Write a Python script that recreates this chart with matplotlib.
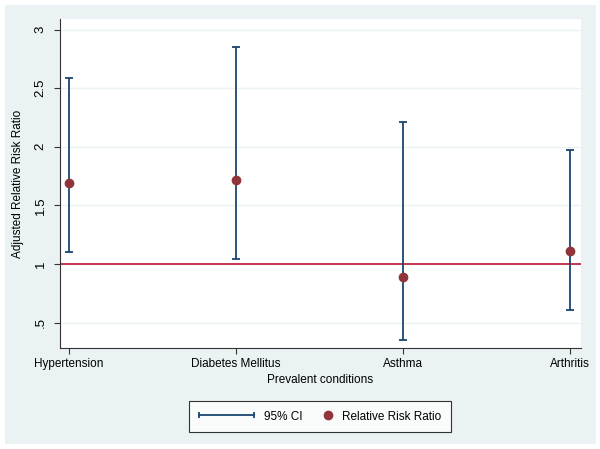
import numpy as np
import matplotlib
matplotlib.use('Agg')
import matplotlib.pyplot as plt
from matplotlib.lines import Line2D
from matplotlib.patches import Rectangle
from matplotlib.legend_handler import HandlerLine2D

plt.rcParams['font.family'] = ['Liberation Sans', 'DejaVu Sans']

# data
conditions = ['Hypertension', 'Diabetes Mellitus', 'Asthma', 'Arthritis']
rrr = [1.69, 1.72, 0.89, 1.11]
ci_low = [1.10, 1.04, 0.355, 0.61]
ci_high = [2.59, 2.85, 2.21, 1.97]
yticks = [0.5, 1, 1.5, 2, 2.5, 3]
ytick_labels = ['.5', '1', '1.5', '2', '2.5', '3']

bg = '#eaf2f3'
navy = '#1a476f'
maroon = '#90353b'
refred = '#c8354f'


class RightDotHandler(HandlerLine2D):
    # put the dot at the right end of the handle box, next to its text
    def get_xdata(self, legend, xdescent, ydescent, width, height, fontsize):
        r = 0.35 * fontsize
        xdata = np.array([-xdescent + width - 2 * r, -xdescent + width])
        return xdata, xdata


fig = plt.figure(figsize=(6.0, 4.49), dpi=100)
fig.patch.set_facecolor('white')
fig.patches.append(Rectangle((5 / 600, 5 / 449), 591 / 600, 439 / 449,
                             transform=fig.transFigure, facecolor=bg,
                             edgecolor='none', zorder=-5))

ax = fig.add_axes([60 / 600, 1 - 348 / 449, 521 / 600, 329 / 449])
ax.set_facecolor('white')

x = np.arange(1, len(conditions) + 1)
y = np.array(rrr)
yerr = [y - np.array(ci_low), np.array(ci_high) - y]

ax.axhline(1, color=refred, lw=1.4, zorder=2)
ax.errorbar(x, y, yerr=yerr, fmt='none', ecolor=navy, elinewidth=1.3,
            capsize=3.0, capthick=1.3, zorder=3)
ax.plot(x, y, 'o', color=maroon, ms=6, zorder=4)

ax.set_xlim(0.946, 4.066)
ax.set_ylim(0.283, 3.09)
ax.set_xticks(x)
ax.set_xticklabels(conditions)
ax.set_yticks(yticks)
ax.set_yticklabels(ytick_labels, rotation=90, va='center')

ax.yaxis.grid(True, color=bg, lw=1.0)
ax.set_axisbelow(True)

for s in ['top', 'right']:
    ax.spines[s].set_visible(False)
for s in ['left', 'bottom']:
    ax.spines[s].set_color('#333333')
    ax.spines[s].set_linewidth(0.8)

ax.tick_params(axis='both', direction='out', length=4.2, width=0.8,
               color='#333333', labelcolor='black')
ax.tick_params(axis='y', pad=5.4, labelsize=9.5)
ax.tick_params(axis='x', pad=3, labelsize=8.5)

ax.set_ylabel('Adjusted Relative Risk Ratio', fontsize=8.5, va='center')
ax.yaxis.set_label_coords((18 - 60) / 521, 0.5)
ax.set_xlabel('Prevalent conditions', fontsize=8.5, va='center')
ax.xaxis.set_label_coords(0.5, (348 - 380) / 329)

# legend
ci_handle = Line2D([], [], color=navy, lw=1.3, marker='|', ms=5, mew=1.3)
dot_handle = Line2D([], [], color=maroon, ls='none', marker='o', ms=6)
leg = fig.legend([ci_handle, dot_handle], ['95% CI', 'Relative Risk Ratio'],
                 loc='center', bbox_to_anchor=(320 / 600, 1 - 416.5 / 449),
                 ncol=2, fontsize=8.5, frameon=True, fancybox=False,
                 handlelength=4.7, handletextpad=0.85, columnspacing=-2.2,
                 borderpad=0.8, borderaxespad=0,
                 handler_map={ci_handle: HandlerLine2D(numpoints=2, marker_pad=0),
                              dot_handle: RightDotHandler(numpoints=1)})
leg.get_frame().set_edgecolor('black')
leg.get_frame().set_linewidth(0.8)
leg.get_frame().set_facecolor('white')

fig.savefig('out.png', dpi=100)
